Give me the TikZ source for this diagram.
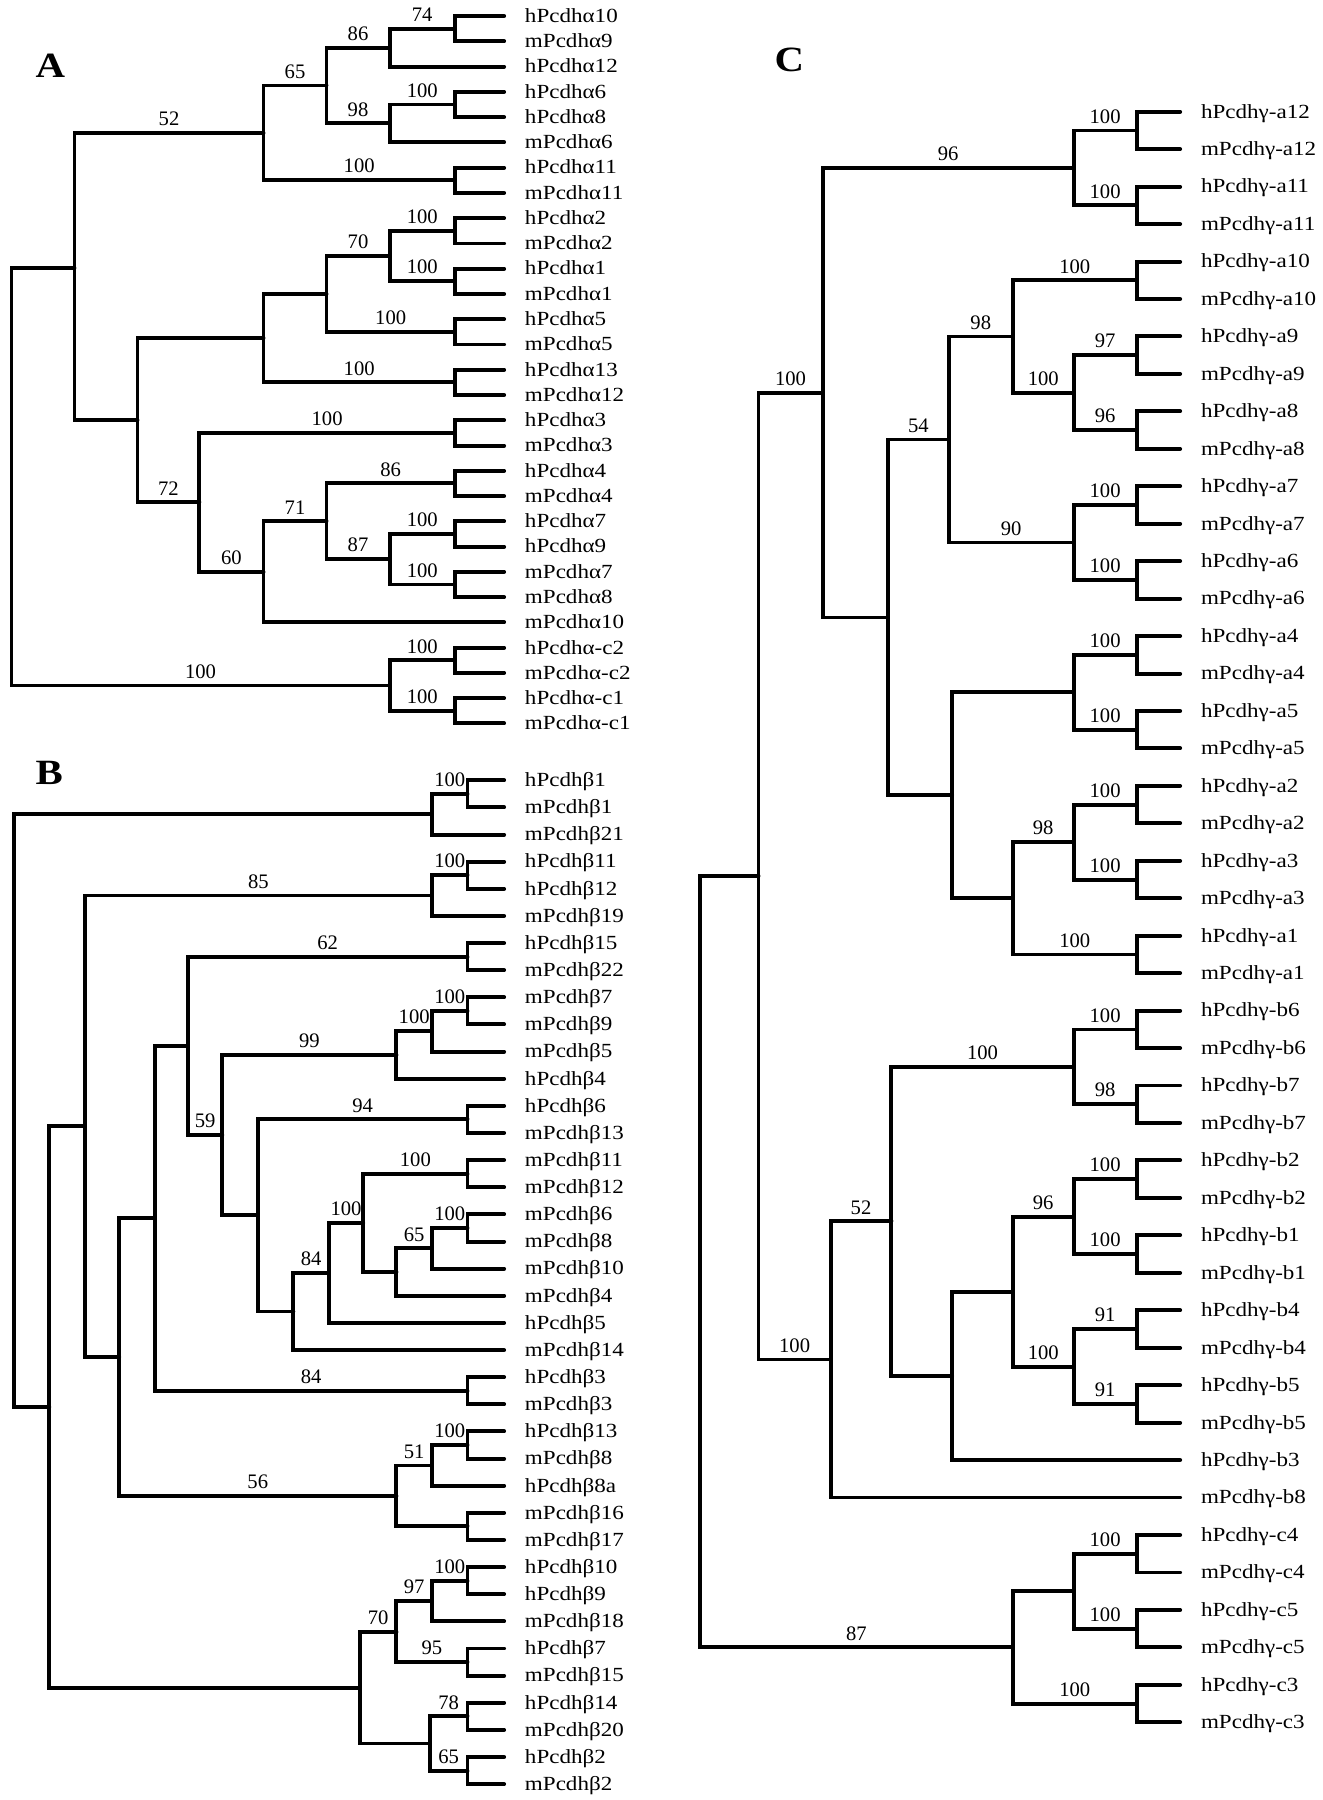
\documentclass[tikz,border=0pt]{standalone}
\usepackage{fontspec}
\setmainfont{Liberation Serif}
\newfontfamily\leaffam[FakeStretch=1.15]{Liberation Serif}
\newcommand{\lblfont}{\fontsize{18}{20}\selectfont}
\newcommand{\tipfont}{\leaffam\fontsize{17.5}{20}\selectfont}
\newcommand{\panelfont}{\leaffam\bfseries\fontsize{31}{33}\selectfont}
\tikzset{
  branch/.style={line width=3.4pt, line cap=round, line join=miter},
  lbl/.style={above=4.5pt, inner sep=0pt, font=\lblfont},
  tip/.style={anchor=base west, xshift=18pt, yshift=-5.5pt, inner sep=0pt, font=\tipfont},
  panel/.style={inner sep=0pt, font=\panelfont}
}
\begin{document}
\begin{tikzpicture}[x=1pt,y=-1pt]
\useasboundingbox (0,0) rectangle (1154,1571);
% ---------------- A
\node[panel] (pA) at (44,57) {A};
\coordinate (A0) at (440,14.0); \node[tip] (tA0) at (A0) {hPcdhα10};
\coordinate (A1) at (440,36.1); \node[tip] (tA1) at (A1) {mPcdhα9};
\coordinate (A2) at (440,58.1); \node[tip] (tA2) at (A2) {hPcdhα12};
\coordinate (A3) at (440,80.2); \node[tip] (tA3) at (A3) {hPcdhα6};
\coordinate (A4) at (440,102.2); \node[tip] (tA4) at (A4) {hPcdhα8};
\coordinate (A5) at (440,124.3); \node[tip] (tA5) at (A5) {mPcdhα6};
\coordinate (A6) at (440,146.3); \node[tip] (tA6) at (A6) {hPcdhα11};
\coordinate (A7) at (440,168.4); \node[tip] (tA7) at (A7) {mPcdhα11};
\coordinate (A8) at (440,190.4); \node[tip] (tA8) at (A8) {hPcdhα2};
\coordinate (A9) at (440,212.5); \node[tip] (tA9) at (A9) {mPcdhα2};
\coordinate (A10) at (440,234.5); \node[tip] (tA10) at (A10) {hPcdhα1};
\coordinate (A11) at (440,256.6); \node[tip] (tA11) at (A11) {mPcdhα1};
\coordinate (A12) at (440,278.6); \node[tip] (tA12) at (A12) {hPcdhα5};
\coordinate (A13) at (440,300.7); \node[tip] (tA13) at (A13) {mPcdhα5};
\coordinate (A14) at (440,322.7); \node[tip] (tA14) at (A14) {hPcdhα13};
\coordinate (A15) at (440,344.8); \node[tip] (tA15) at (A15) {mPcdhα12};
\coordinate (A16) at (440,366.8); \node[tip] (tA16) at (A16) {hPcdhα3};
\coordinate (A17) at (440,388.9); \node[tip] (tA17) at (A17) {mPcdhα3};
\coordinate (A18) at (440,410.9); \node[tip] (tA18) at (A18) {hPcdhα4};
\coordinate (A19) at (440,433.0); \node[tip] (tA19) at (A19) {mPcdhα4};
\coordinate (A20) at (440,455.0); \node[tip] (tA20) at (A20) {hPcdhα7};
\coordinate (A21) at (440,477.1); \node[tip] (tA21) at (A21) {hPcdhα9};
\coordinate (A22) at (440,499.1); \node[tip] (tA22) at (A22) {mPcdhα7};
\coordinate (A23) at (440,521.2); \node[tip] (tA23) at (A23) {mPcdhα8};
\coordinate (A24) at (440,543.2); \node[tip] (tA24) at (A24) {mPcdhα10};
\coordinate (A25) at (440,565.3); \node[tip] (tA25) at (A25) {hPcdhα-c2};
\coordinate (A26) at (440,587.3); \node[tip] (tA26) at (A26) {mPcdhα-c2};
\coordinate (A27) at (440,609.4); \node[tip] (tA27) at (A27) {hPcdhα-c1};
\coordinate (A28) at (440,631.4); \node[tip] (tA28) at (A28) {mPcdhα-c1};
\coordinate (a74) at (397,25.0);
\coordinate (a86) at (340,41.6);
\coordinate (a68) at (397,91.2);
\coordinate (a98) at (340,107.7);
\coordinate (a65) at (285,74.6);
\coordinate (a11) at (397,157.3);
\coordinate (a52) at (230,116.0);
\coordinate (a2) at (397,201.4);
\coordinate (a1) at (397,245.5);
\coordinate (a70) at (340,223.5);
\coordinate (a5) at (397,289.6);
\coordinate (aW) at (285,256.6);
\coordinate (a13) at (397,333.7);
\coordinate (aU) at (230,295.2);
\coordinate (a3) at (397,377.8);
\coordinate (a4) at (397,421.9);
\coordinate (a79) at (397,466.0);
\coordinate (a78) at (397,510.1);
\coordinate (a87) at (340,488.1);
\coordinate (a71) at (285,455.0);
\coordinate (a60) at (230,499.1);
\coordinate (a72) at (174,438.5);
\coordinate (aT) at (120,366.9);
\coordinate (aN) at (65,234.0);
\coordinate (ac2) at (397,576.3);
\coordinate (ac1) at (397,620.4);
\coordinate (ac) at (340,598.3);
\coordinate (aroot) at (10,416.0);
\draw[branch] (A0) -| (a74) |- (A1);
\draw[branch] (a74) -| node[lbl,pos=.25]{74} (a86) |- (A2);
\draw[branch] (A3) -| (a68) |- (A4);
\draw[branch] (a68) -| node[lbl,pos=.25]{100} (a98) |- (A5);
\draw[branch] (a86) -| node[lbl,pos=.25]{86} (a65) |- node[lbl,pos=.75]{98} (a98);
\draw[branch] (A6) -| (a11) |- (A7);
\draw[branch] (a65) -| node[lbl,pos=.25]{65} (a52) |- node[lbl,pos=.75]{100} (a11);
\draw[branch] (A8) -| (a2) |- (A9);
\draw[branch] (A10) -| (a1) |- (A11);
\draw[branch] (a2) -| node[lbl,pos=.25]{100} (a70) |- node[lbl,pos=.75]{100} (a1);
\draw[branch] (A12) -| (a5) |- (A13);
\draw[branch] (a70) -| node[lbl,pos=.25]{70} (aW) |- node[lbl,pos=.75]{100} (a5);
\draw[branch] (A14) -| (a13) |- (A15);
\draw[branch] (aW) -| (aU) |- node[lbl,pos=.75]{100} (a13);
\draw[branch] (A16) -| (a3) |- (A17);
\draw[branch] (A18) -| (a4) |- (A19);
\draw[branch] (A20) -| (a79) |- (A21);
\draw[branch] (A22) -| (a78) |- (A23);
\draw[branch] (a79) -| node[lbl,pos=.25]{100} (a87) |- node[lbl,pos=.75]{100} (a78);
\draw[branch] (a4) -| node[lbl,pos=.25]{86} (a71) |- node[lbl,pos=.75]{87} (a87);
\draw[branch] (a71) -| node[lbl,pos=.25]{71} (a60) |- (A24);
\draw[branch] (a3) -| node[lbl,pos=.25]{100} (a72) |- node[lbl,pos=.75]{60} (a60);
\draw[branch] (aU) -| (aT) |- node[lbl,pos=.75]{72} (a72);
\draw[branch] (a52) -| node[lbl,pos=.25]{52} (aN) |- (aT);
\draw[branch] (A25) -| (ac2) |- (A26);
\draw[branch] (A27) -| (ac1) |- (A28);
\draw[branch] (ac2) -| node[lbl,pos=.25]{100} (ac) |- node[lbl,pos=.75]{100} (ac1);
\draw[branch] (aN) -| (aroot) |- node[lbl,pos=.75]{100} (ac);
% ---------------- B
\node[panel] (pB) at (43,675) {B};
\coordinate (B0) at (440,681.0); \node[tip] (tB0) at (B0) {hPcdhβ1};
\coordinate (B1) at (440,704.7); \node[tip] (tB1) at (B1) {mPcdhβ1};
\coordinate (B2) at (440,728.4); \node[tip] (tB2) at (B2) {mPcdhβ21};
\coordinate (B3) at (440,752.0); \node[tip] (tB3) at (B3) {hPcdhβ11};
\coordinate (B4) at (440,775.7); \node[tip] (tB4) at (B4) {hPcdhβ12};
\coordinate (B5) at (440,799.4); \node[tip] (tB5) at (B5) {mPcdhβ19};
\coordinate (B6) at (440,823.1); \node[tip] (tB6) at (B6) {hPcdhβ15};
\coordinate (B7) at (440,846.8); \node[tip] (tB7) at (B7) {mPcdhβ22};
\coordinate (B8) at (440,870.4); \node[tip] (tB8) at (B8) {mPcdhβ7};
\coordinate (B9) at (440,894.1); \node[tip] (tB9) at (B9) {mPcdhβ9};
\coordinate (B10) at (440,917.8); \node[tip] (tB10) at (B10) {mPcdhβ5};
\coordinate (B11) at (440,941.5); \node[tip] (tB11) at (B11) {hPcdhβ4};
\coordinate (B12) at (440,965.2); \node[tip] (tB12) at (B12) {hPcdhβ6};
\coordinate (B13) at (440,988.8); \node[tip] (tB13) at (B13) {mPcdhβ13};
\coordinate (B14) at (440,1012.5); \node[tip] (tB14) at (B14) {mPcdhβ11};
\coordinate (B15) at (440,1036.2); \node[tip] (tB15) at (B15) {mPcdhβ12};
\coordinate (B16) at (440,1059.9); \node[tip] (tB16) at (B16) {mPcdhβ6};
\coordinate (B17) at (440,1083.6); \node[tip] (tB17) at (B17) {mPcdhβ8};
\coordinate (B18) at (440,1107.2); \node[tip] (tB18) at (B18) {mPcdhβ10};
\coordinate (B19) at (440,1130.9); \node[tip] (tB19) at (B19) {mPcdhβ4};
\coordinate (B20) at (440,1154.6); \node[tip] (tB20) at (B20) {hPcdhβ5};
\coordinate (B21) at (440,1178.3); \node[tip] (tB21) at (B21) {mPcdhβ14};
\coordinate (B22) at (440,1202.0); \node[tip] (tB22) at (B22) {hPcdhβ3};
\coordinate (B23) at (440,1225.6); \node[tip] (tB23) at (B23) {mPcdhβ3};
\coordinate (B24) at (440,1249.3); \node[tip] (tB24) at (B24) {hPcdhβ13};
\coordinate (B25) at (440,1273.0); \node[tip] (tB25) at (B25) {mPcdhβ8};
\coordinate (B26) at (440,1296.7); \node[tip] (tB26) at (B26) {hPcdhβ8a};
\coordinate (B27) at (440,1320.4); \node[tip] (tB27) at (B27) {mPcdhβ16};
\coordinate (B28) at (440,1344.0); \node[tip] (tB28) at (B28) {mPcdhβ17};
\coordinate (B29) at (440,1367.7); \node[tip] (tB29) at (B29) {hPcdhβ10};
\coordinate (B30) at (440,1391.4); \node[tip] (tB30) at (B30) {hPcdhβ9};
\coordinate (B31) at (440,1415.1); \node[tip] (tB31) at (B31) {mPcdhβ18};
\coordinate (B32) at (440,1438.8); \node[tip] (tB32) at (B32) {hPcdhβ7};
\coordinate (B33) at (440,1462.4); \node[tip] (tB33) at (B33) {mPcdhβ15};
\coordinate (B34) at (440,1486.1); \node[tip] (tB34) at (B34) {hPcdhβ14};
\coordinate (B35) at (440,1509.8); \node[tip] (tB35) at (B35) {mPcdhβ20};
\coordinate (B36) at (440,1533.5); \node[tip] (tB36) at (B36) {hPcdhβ2};
\coordinate (B37) at (440,1557.2); \node[tip] (tB37) at (B37) {mPcdhβ2};
\coordinate (b1) at (408,692.9);
\coordinate (bB1) at (377,710.6);
\coordinate (b11) at (408,763.9);
\coordinate (b85) at (377,781.6);
\coordinate (b15) at (408,835.0);
\coordinate (b79) at (408,882.3);
\coordinate (b5) at (377,900.0);
\coordinate (b99) at (346,920.8);
\coordinate (b6) at (408,977.0);
\coordinate (b1112) at (408,1024.4);
\coordinate (b68) at (408,1071.7);
\coordinate (b65) at (377,1089.5);
\coordinate (b4) at (346,1110.2);
\coordinate (b317) at (317,1067.3);
\coordinate (b287) at (287,1111.0);
\coordinate (b256) at (256,1144.6);
\coordinate (b225) at (225,1060.8);
\coordinate (b194) at (194,990.8);
\coordinate (b164) at (164,912.9);
\coordinate (b3) at (408,1213.8);
\coordinate (b135) at (135,1063.4);
\coordinate (b13) at (408,1261.2);
\coordinate (b51) at (377,1279.0);
\coordinate (b16) at (408,1332.2);
\coordinate (b56) at (346,1305.6);
\coordinate (b104) at (104,1184.5);
\coordinate (b74) at (74,983.1);
\coordinate (b109) at (408,1379.6);
\coordinate (b97) at (377,1397.4);
\coordinate (b715) at (408,1450.6);
\coordinate (b70) at (346,1424.0);
\coordinate (b1420) at (408,1498.0);
\coordinate (b2) at (408,1545.4);
\coordinate (b375) at (375,1521.7);
\coordinate (b314) at (314,1472.9);
\coordinate (b43) at (43,1228.0);
\coordinate (broot) at (12,969.0);
\draw[branch] (B0) -| (b1) |- (B1);
\draw[branch] (b1) -| node[lbl,pos=.25]{100} (bB1) |- (B2);
\draw[branch] (B3) -| (b11) |- (B4);
\draw[branch] (b11) -| node[lbl,pos=.25]{100} (b85) |- (B5);
\draw[branch] (B6) -| (b15) |- (B7);
\draw[branch] (B8) -| (b79) |- (B9);
\draw[branch] (b79) -| node[lbl,pos=.25]{100} (b5) |- (B10);
\draw[branch] (b5) -| node[lbl,pos=.25]{100} (b99) |- (B11);
\draw[branch] (B12) -| (b6) |- (B13);
\draw[branch] (B14) -| (b1112) |- (B15);
\draw[branch] (B16) -| (b68) |- (B17);
\draw[branch] (b68) -| node[lbl,pos=.25]{100} (b65) |- (B18);
\draw[branch] (b65) -| node[lbl,pos=.25]{65} (b4) |- (B19);
\draw[branch] (b1112) -| node[lbl,pos=.25]{100} (b317) |- (b4);
\draw[branch] (b317) -| node[lbl,pos=.25]{100} (b287) |- (B20);
\draw[branch] (b287) -| node[lbl,pos=.25]{84} (b256) |- (B21);
\draw[branch] (b6) -| node[lbl,pos=.25]{94} (b225) |- (b256);
\draw[branch] (b99) -| node[lbl,pos=.25]{99} (b194) |- (b225);
\draw[branch] (b15) -| node[lbl,pos=.25]{62} (b164) |- node[lbl,pos=.75]{59} (b194);
\draw[branch] (B22) -| (b3) |- (B23);
\draw[branch] (b164) -| (b135) |- node[lbl,pos=.75]{84} (b3);
\draw[branch] (B24) -| (b13) |- (B25);
\draw[branch] (b13) -| node[lbl,pos=.25]{100} (b51) |- (B26);
\draw[branch] (B27) -| (b16) |- (B28);
\draw[branch] (b51) -| node[lbl,pos=.25]{51} (b56) |- (b16);
\draw[branch] (b135) -| (b104) |- node[lbl,pos=.75]{56} (b56);
\draw[branch] (b85) -| node[lbl,pos=.25]{85} (b74) |- (b104);
\draw[branch] (B29) -| (b109) |- (B30);
\draw[branch] (b109) -| node[lbl,pos=.25]{100} (b97) |- (B31);
\draw[branch] (B32) -| (b715) |- (B33);
\draw[branch] (b97) -| node[lbl,pos=.25]{97} (b70) |- node[lbl,pos=.75]{95} (b715);
\draw[branch] (B34) -| (b1420) |- (B35);
\draw[branch] (B36) -| (b2) |- (B37);
\draw[branch] (b1420) -| node[lbl,pos=.25]{78} (b375) |- node[lbl,pos=.75]{65} (b2);
\draw[branch] (b70) -| node[lbl,pos=.25]{70} (b314) |- (b375);
\draw[branch] (b74) -| (b43) |- (b314);
\draw[branch] (bB1) -| (broot) |- (b43);
% ---------------- C
\node[panel] (pC) at (689,52) {C};
\coordinate (C0) at (1030,97.5); \node[tip] (tC0) at (C0) {hPcdhγ-a12};
\coordinate (C1) at (1030,130.2); \node[tip] (tC1) at (C1) {mPcdhγ-a12};
\coordinate (C2) at (1030,162.9); \node[tip] (tC2) at (C2) {hPcdhγ-a11};
\coordinate (C3) at (1030,195.6); \node[tip] (tC3) at (C3) {mPcdhγ-a11};
\coordinate (C4) at (1030,228.3); \node[tip] (tC4) at (C4) {hPcdhγ-a10};
\coordinate (C5) at (1030,261.0); \node[tip] (tC5) at (C5) {mPcdhγ-a10};
\coordinate (C6) at (1030,293.6); \node[tip] (tC6) at (C6) {hPcdhγ-a9};
\coordinate (C7) at (1030,326.3); \node[tip] (tC7) at (C7) {mPcdhγ-a9};
\coordinate (C8) at (1030,359.0); \node[tip] (tC8) at (C8) {hPcdhγ-a8};
\coordinate (C9) at (1030,391.7); \node[tip] (tC9) at (C9) {mPcdhγ-a8};
\coordinate (C10) at (1030,424.4); \node[tip] (tC10) at (C10) {hPcdhγ-a7};
\coordinate (C11) at (1030,457.1); \node[tip] (tC11) at (C11) {mPcdhγ-a7};
\coordinate (C12) at (1030,489.8); \node[tip] (tC12) at (C12) {hPcdhγ-a6};
\coordinate (C13) at (1030,522.5); \node[tip] (tC13) at (C13) {mPcdhγ-a6};
\coordinate (C14) at (1030,555.2); \node[tip] (tC14) at (C14) {hPcdhγ-a4};
\coordinate (C15) at (1030,587.9); \node[tip] (tC15) at (C15) {mPcdhγ-a4};
\coordinate (C16) at (1030,620.5); \node[tip] (tC16) at (C16) {hPcdhγ-a5};
\coordinate (C17) at (1030,653.2); \node[tip] (tC17) at (C17) {mPcdhγ-a5};
\coordinate (C18) at (1030,685.9); \node[tip] (tC18) at (C18) {hPcdhγ-a2};
\coordinate (C19) at (1030,718.6); \node[tip] (tC19) at (C19) {mPcdhγ-a2};
\coordinate (C20) at (1030,751.3); \node[tip] (tC20) at (C20) {hPcdhγ-a3};
\coordinate (C21) at (1030,784.0); \node[tip] (tC21) at (C21) {mPcdhγ-a3};
\coordinate (C22) at (1030,816.7); \node[tip] (tC22) at (C22) {hPcdhγ-a1};
\coordinate (C23) at (1030,849.4); \node[tip] (tC23) at (C23) {mPcdhγ-a1};
\coordinate (C24) at (1030,882.1); \node[tip] (tC24) at (C24) {hPcdhγ-b6};
\coordinate (C25) at (1030,914.8); \node[tip] (tC25) at (C25) {mPcdhγ-b6};
\coordinate (C26) at (1030,947.4); \node[tip] (tC26) at (C26) {hPcdhγ-b7};
\coordinate (C27) at (1030,980.1); \node[tip] (tC27) at (C27) {mPcdhγ-b7};
\coordinate (C28) at (1030,1012.8); \node[tip] (tC28) at (C28) {hPcdhγ-b2};
\coordinate (C29) at (1030,1045.5); \node[tip] (tC29) at (C29) {mPcdhγ-b2};
\coordinate (C30) at (1030,1078.2); \node[tip] (tC30) at (C30) {hPcdhγ-b1};
\coordinate (C31) at (1030,1110.9); \node[tip] (tC31) at (C31) {mPcdhγ-b1};
\coordinate (C32) at (1030,1143.6); \node[tip] (tC32) at (C32) {hPcdhγ-b4};
\coordinate (C33) at (1030,1176.3); \node[tip] (tC33) at (C33) {mPcdhγ-b4};
\coordinate (C34) at (1030,1209.0); \node[tip] (tC34) at (C34) {hPcdhγ-b5};
\coordinate (C35) at (1030,1241.7); \node[tip] (tC35) at (C35) {mPcdhγ-b5};
\coordinate (C36) at (1030,1274.3); \node[tip] (tC36) at (C36) {hPcdhγ-b3};
\coordinate (C37) at (1030,1307.0); \node[tip] (tC37) at (C37) {mPcdhγ-b8};
\coordinate (C38) at (1030,1339.7); \node[tip] (tC38) at (C38) {hPcdhγ-c4};
\coordinate (C39) at (1030,1372.4); \node[tip] (tC39) at (C39) {mPcdhγ-c4};
\coordinate (C40) at (1030,1405.1); \node[tip] (tC40) at (C40) {hPcdhγ-c5};
\coordinate (C41) at (1030,1437.8); \node[tip] (tC41) at (C41) {mPcdhγ-c5};
\coordinate (C42) at (1030,1470.5); \node[tip] (tC42) at (C42) {hPcdhγ-c3};
\coordinate (C43) at (1030,1503.2); \node[tip] (tC43) at (C43) {mPcdhγ-c3};
\coordinate (ca12) at (992,113.9);
\coordinate (ca11) at (992,179.3);
\coordinate (c96n) at (937,146.6);
\coordinate (ca10) at (992,244.7);
\coordinate (ca9) at (992,310.0);
\coordinate (ca8) at (992,375.4);
\coordinate (c100b) at (937,342.7);
\coordinate (c98) at (884,293.7);
\coordinate (ca7) at (992,440.8);
\coordinate (ca6) at (992,506.2);
\coordinate (c90) at (937,473.5);
\coordinate (c828) at (828,383.6);
\coordinate (ca4) at (992,571.6);
\coordinate (ca5) at (992,636.9);
\coordinate (c936b) at (937,604.3);
\coordinate (ca2) at (992,702.3);
\coordinate (ca3) at (992,767.7);
\coordinate (c98b) at (937,735.0);
\coordinate (ca1) at (992,833.1);
\coordinate (c884b) at (884,784.0);
\coordinate (c831) at (831,694.2);
\coordinate (c775) at (775,538.9);
\coordinate (c718) at (718,342.8);
\coordinate (cb6) at (992,898.5);
\coordinate (cb7) at (992,963.8);
\coordinate (c938d) at (937,931.1);
\coordinate (cb2) at (992,1029.2);
\coordinate (cb1) at (992,1094.6);
\coordinate (c938e) at (937,1061.9);
\coordinate (cb4) at (992,1160.0);
\coordinate (cb5) at (992,1225.4);
\coordinate (c938f) at (937,1192.7);
\coordinate (c884c) at (884,1127.3);
\coordinate (c831b) at (831,1200.8);
\coordinate (c778) at (778,1066.0);
\coordinate (c725) at (725,1186.5);
\coordinate (c662) at (662,764.6);
\coordinate (cc4) at (992,1356.1);
\coordinate (cc5) at (992,1421.5);
\coordinate (c938g) at (937,1388.8);
\coordinate (cc3) at (992,1486.9);
\coordinate (c884d) at (884,1437.8);
\coordinate (croot) at (611,1101.0);
\draw[branch] (C0) -| (ca12) |- (C1);
\draw[branch] (C2) -| (ca11) |- (C3);
\draw[branch] (ca12) -| node[lbl,pos=.25]{100} (c96n) |- node[lbl,pos=.75]{100} (ca11);
\draw[branch] (C4) -| (ca10) |- (C5);
\draw[branch] (C6) -| (ca9) |- (C7);
\draw[branch] (C8) -| (ca8) |- (C9);
\draw[branch] (ca9) -| node[lbl,pos=.25]{97} (c100b) |- node[lbl,pos=.75]{96} (ca8);
\draw[branch] (ca10) -| node[lbl,pos=.25]{100} (c98) |- node[lbl,pos=.75]{100} (c100b);
\draw[branch] (C10) -| (ca7) |- (C11);
\draw[branch] (C12) -| (ca6) |- (C13);
\draw[branch] (ca7) -| node[lbl,pos=.25]{100} (c90) |- node[lbl,pos=.75]{100} (ca6);
\draw[branch] (c98) -| node[lbl,pos=.25]{98} (c828) |- node[lbl,pos=.75]{90} (c90);
\draw[branch] (C14) -| (ca4) |- (C15);
\draw[branch] (C16) -| (ca5) |- (C17);
\draw[branch] (ca4) -| node[lbl,pos=.25]{100} (c936b) |- node[lbl,pos=.75]{100} (ca5);
\draw[branch] (C18) -| (ca2) |- (C19);
\draw[branch] (C20) -| (ca3) |- (C21);
\draw[branch] (ca2) -| node[lbl,pos=.25]{100} (c98b) |- node[lbl,pos=.75]{100} (ca3);
\draw[branch] (C22) -| (ca1) |- (C23);
\draw[branch] (c98b) -| node[lbl,pos=.25]{98} (c884b) |- node[lbl,pos=.75]{100} (ca1);
\draw[branch] (c936b) -| (c831) |- (c884b);
\draw[branch] (c828) -| node[lbl,pos=.25]{54} (c775) |- (c831);
\draw[branch] (c96n) -| node[lbl,pos=.25]{96} (c718) |- (c775);
\draw[branch] (C24) -| (cb6) |- (C25);
\draw[branch] (C26) -| (cb7) |- (C27);
\draw[branch] (cb6) -| node[lbl,pos=.25]{100} (c938d) |- node[lbl,pos=.75]{98} (cb7);
\draw[branch] (C28) -| (cb2) |- (C29);
\draw[branch] (C30) -| (cb1) |- (C31);
\draw[branch] (cb2) -| node[lbl,pos=.25]{100} (c938e) |- node[lbl,pos=.75]{100} (cb1);
\draw[branch] (C32) -| (cb4) |- (C33);
\draw[branch] (C34) -| (cb5) |- (C35);
\draw[branch] (cb4) -| node[lbl,pos=.25]{91} (c938f) |- node[lbl,pos=.75]{91} (cb5);
\draw[branch] (c938e) -| node[lbl,pos=.25]{96} (c884c) |- node[lbl,pos=.75]{100} (c938f);
\draw[branch] (c884c) -| (c831b) |- (C36);
\draw[branch] (c938d) -| node[lbl,pos=.25]{100} (c778) |- (c831b);
\draw[branch] (c778) -| node[lbl,pos=.25]{52} (c725) |- (C37);
\draw[branch] (c718) -| node[lbl,pos=.25]{100} (c662) |- node[lbl,pos=.75]{100} (c725);
\draw[branch] (C38) -| (cc4) |- (C39);
\draw[branch] (C40) -| (cc5) |- (C41);
\draw[branch] (cc4) -| node[lbl,pos=.25]{100} (c938g) |- node[lbl,pos=.75]{100} (cc5);
\draw[branch] (C42) -| (cc3) |- (C43);
\draw[branch] (c938g) -| (c884d) |- node[lbl,pos=.75]{100} (cc3);
\draw[branch] (c662) -| (croot) |- node[lbl,pos=.75]{87} (c884d);
\end{tikzpicture}
\end{document}
